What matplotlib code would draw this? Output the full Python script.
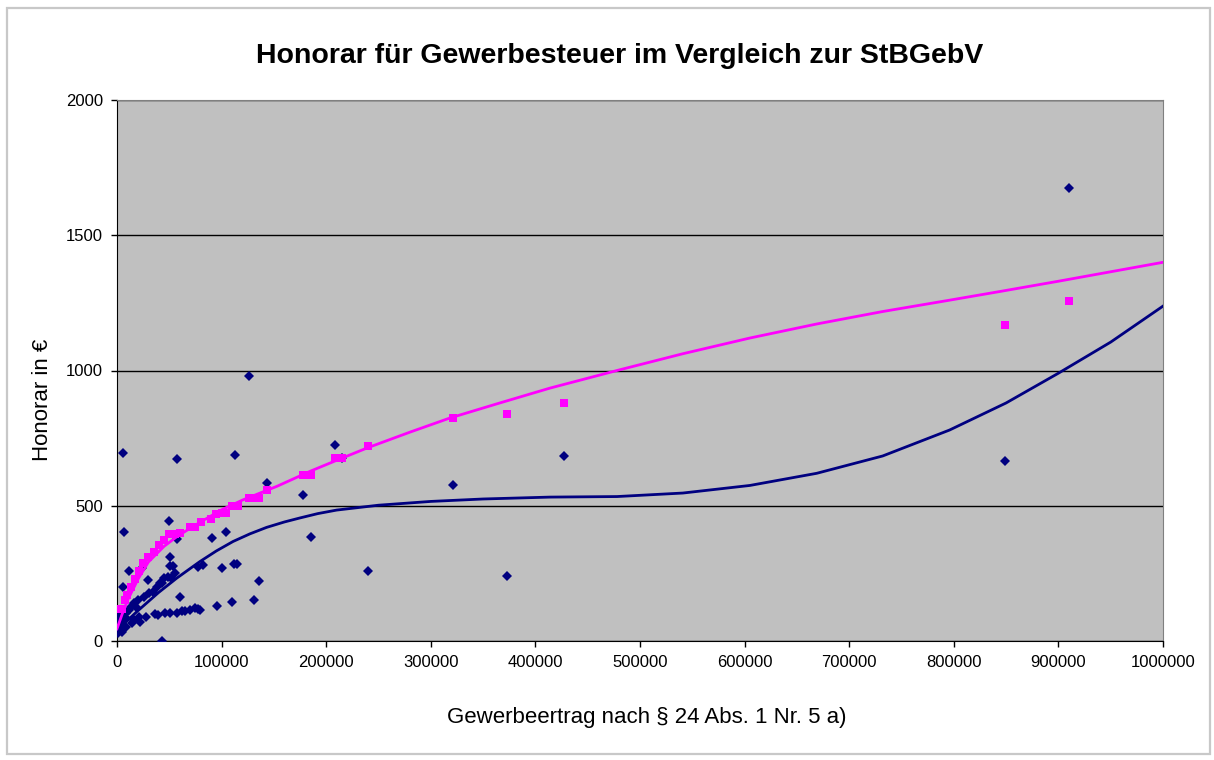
import matplotlib.pyplot as plt
from matplotlib.patches import Rectangle

plt.rcParams['font.family'] = ['Liberation Sans', 'DejaVu Sans']

# Honorar (blue diamonds): Gewerbeertrag vs. fee charged
honorar_x = [500, 1000, 2000, 2000, 3000, 3000, 4000, 5000, 5000, 6000, 6000,
             7000, 7000, 8000, 9000, 9000, 11000, 11000, 13000, 14000, 16000, 16000,
             18000, 20000, 21000, 22000, 24000, 26000, 28000, 30000, 31000, 34000, 36000,
             38000, 39000, 41000, 43000, 43000, 45000, 46000, 49000, 50000, 51000, 51000,
             51000, 52000, 54000, 55000, 57000, 57000, 57000, 60000, 62000, 65000,
             70000, 75000, 77000, 77000, 79000, 82000, 91000, 96000, 100000, 104000,
             110000, 112000, 115000, 113000, 126000, 131000, 136000, 143000, 178000, 185000,
             208000, 215000, 240000, 321000, 373000, 427000, 849000, 910000]
honorar_y = [29, 66, 89, 107, 96, 66, 52, 34, 78, 200, 695,
             403, 78, 89, 52, 103, 259, 115, 126, 66, 140, 78,
             126, 151, 89, 71, 269, 163, 89, 225, 177, 181, 100,
             200, 96, 214, 0, 214, 233, 103, 237, 444, 311, 277,
             105, 233, 277, 250, 673, 105, 377, 163, 111, 111,
             114, 123, 118, 274, 115, 281, 381, 129, 270, 403,
             144, 285, 285, 688, 980, 150, 220, 584, 540, 385,
             725, 677, 259, 575, 240, 684, 665, 1675]

# StBGebV fee (magenta squares)
stbgebv_x = [2000, 5000, 8000, 10000, 13000, 17000, 21000, 25000, 30000, 35000,
             40000, 45000, 50000, 55000, 60000, 70000, 75000, 80000, 90000, 95000,
             100000, 104000, 110000, 113000, 116000, 126000, 131000, 136000, 143000, 178000,
             185000, 208000, 215000, 240000, 321000, 373000, 427000, 849000, 910000]
stbgebv_y = [118, 118, 150, 170, 200, 230, 260, 290, 310, 330,
             355, 375, 395, 395, 400, 420, 420, 440, 450, 470,
             475, 475, 500, 500, 500, 527, 527, 527, 558, 612,
             612, 678, 678, 720, 825, 840, 880, 1170, 1257]

# trend lines
trend_honorar_x = [0, 20000, 40000, 57000, 79000, 95000, 111000, 127000, 143000, 160000,
                   175000, 192000, 210000, 250000, 300000, 350000, 414000, 478000, 541000, 605000,
                   669000, 732000, 796000, 850000, 900000, 950000, 1000000]
trend_honorar_y = [40, 112, 180, 232, 293, 333, 368, 396, 420, 440,
                   455, 471, 484, 502, 516, 525, 532, 534, 547, 575,
                   620, 684, 780, 880, 990, 1105, 1238]

trend_stbgebv_x = [0, 5000, 10000, 20000, 30000, 45000, 57000, 70000, 83000, 100000,
                   120000, 153000, 185000, 210000, 240000, 280000, 318000, 366000, 414000, 478000,
                   541000, 605000, 669000, 732000, 796000, 844000, 900000, 1000000]
trend_stbgebv_y = [45, 100, 150, 228, 292, 350, 385, 417, 447, 485,
                   521, 572, 628, 668, 715, 772, 824, 880, 935, 1000,
                   1062, 1120, 1172, 1218, 1260, 1292, 1330, 1400]

x_ticks = list(range(0, 1000001, 100000))
y_ticks = [0, 500, 1000, 1500, 2000]

fig = plt.figure(figsize=(12.14, 7.60), dpi=100)
fig.patch.set_facecolor('white')
fig.patches.append(Rectangle((7 / 1214, 6 / 760), 1203 / 1214, 746 / 760,
                             transform=fig.transFigure, fill=False,
                             edgecolor='#c8c8c8', linewidth=1.6))

ax = fig.add_axes([117 / 1214, 1 - 641 / 760, 1046 / 1214, 541 / 760])
ax.set_facecolor('#c0c0c0')

ax.plot(honorar_x, honorar_y, linestyle='none', marker='D', markersize=5.2,
        color='#000080', markeredgewidth=0, zorder=3)
ax.plot(stbgebv_x, stbgebv_y, linestyle='none', marker='s', markersize=5.8,
        color='#ff00ff', markeredgewidth=0, zorder=4)
ax.plot(trend_honorar_x, trend_honorar_y, color='#000080', linewidth=2.0, zorder=5)
ax.plot(trend_stbgebv_x, trend_stbgebv_y, color='#ff00ff', linewidth=2.0, zorder=6)

ax.set_xlim(0, 1000000)
ax.set_ylim(0, 2000)
ax.set_xticks(x_ticks)
ax.set_xticklabels([str(v) for v in x_ticks])
ax.set_yticks(y_ticks)
ax.set_yticklabels([str(v) for v in y_ticks])
ax.tick_params(direction='out', length=4, width=1, color='black',
               labelsize=12, pad=6)
ax.grid(axis='y', color='black', linewidth=1)
ax.set_axisbelow(True)

for side in ('left', 'bottom'):
    ax.spines[side].set_color('black')
for side in ('top', 'right'):
    ax.spines[side].set_color('#808080')

ax.set_xlabel('Gewerbeertrag nach § 24 Abs. 1 Nr. 5 a)', fontsize=16)
ax.set_ylabel('Honorar in €', fontsize=16)
ax.xaxis.set_label_coords(0.506, -0.122)
ax.yaxis.set_label_coords(-0.061, 0.445)

fig.text(620 / 1214, 1 - 56 / 760, 'Honorar für Gewerbesteuer im Vergleich zur StBGebV',
         ha='center', va='center', fontsize=20.5, fontweight='bold')

fig.savefig('out.png', dpi=100)
